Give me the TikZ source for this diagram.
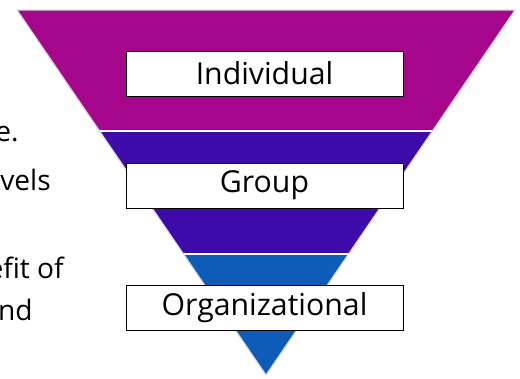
\documentclass[tikz,border=0pt]{standalone}
\usepackage{fontspec}
\setmainfont{Open Sans}
\definecolor{magentaband}{RGB}{165,6,140}
\definecolor{purpleband}{RGB}{62,10,170}
\definecolor{blueband}{RGB}{12,92,184}
\begin{document}
\begin{tikzpicture}[x=0.025cm,y=-0.025cm]
\tikzset{
  level/.style={draw=black,fill=white,thin,shape=rectangle,minimum width=6.925cm,minimum height=1.125cm,inner sep=0pt,font=\fontsize{21.5}{26}\selectfont},
  cut/.style={anchor=base east,inner sep=0pt,font=\fontsize{20}{24}\selectfont}
}
\useasboundingbox (0,0) rectangle (520,378);
\coordinate (tl) at (17,10);
\coordinate (tr) at (515,10);
\coordinate (apex) at (266,375);
\begin{scope}
\clip (tl) -- (tr) -- (apex) -- cycle;
\fill[magentaband] (0,0) rectangle (520,131);
\fill[purpleband] (0,131) rectangle (520,254);
\fill[blueband] (0,254) rectangle (520,378);
\draw[white,line width=1.2pt] (0,131) -- (520,131);
\draw[white,line width=1.2pt] (0,254) -- (520,254);
\end{scope}
\draw[black!15,line width=0.8pt] (tl) -- (tr) -- (apex) -- cycle;
\node[level] (individual) at (264.5,73.5) {Individual};
\node[level] (group) at (264.5,185.5) {Group};
\node[level] (organizational) at (264.5,307.5) {Organizational};
\node[cut] (line1) at (19,141) {e.};
\node[cut] (line2) at (51,190) {vels};
\node[cut] (line3) at (64,278) {efit of};
\node[cut] (line4) at (33,320) {nd};
\end{tikzpicture}
\end{document}
